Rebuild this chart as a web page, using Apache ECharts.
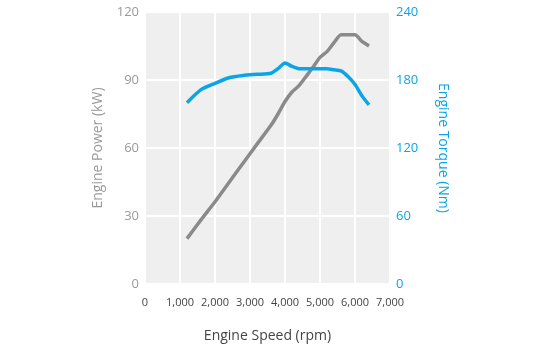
<!DOCTYPE html>
<html>
<head>
<meta charset="utf-8">
<script src="https://cdn.jsdelivr.net/npm/echarts@6/dist/echarts.min.js"></script>
<style>html,body{margin:0;padding:0;background:#fff;}#c{width:540px;height:350px;}</style>
</head>
<body>
<div id="c"></div>
<script>
var xTicks = [0, 1000, 2000, 3000, 4000, 5000, 6000, 7000];
var powerRpm = [1200, 1600, 2000, 2400, 2800, 3200, 3600, 3800, 4000, 4200, 4400, 4600, 4800, 5000, 5200, 5400, 5600, 6000, 6200, 6400];
var powerKW  = [20, 28.3, 36.3, 44.8, 53.3, 61.7, 70, 75, 80.5, 84.7, 87.5, 91.5, 95.7, 100, 102.5, 106.5, 110, 110, 107, 105];
var torqueRpm = [1200, 1600, 2000, 2400, 2800, 3200, 3600, 3800, 4000, 4200, 4400, 4800, 5200, 5400, 5600, 5800, 6000, 6200, 6400];
var torqueNm  = [160, 171.5, 177, 182, 184, 185, 186, 190, 195, 192, 190, 190, 190, 189, 188, 183, 176, 166, 158];

var gray = '#8a8a8a', blue = '#0aa5e6';
function pairs(xs, ys){ return xs.map(function(x,i){ return [x, ys[i]]; }); }

var chart = echarts.init(document.getElementById('c'), null, {renderer:'canvas'});
chart.setOption({
  animation: false,
  textStyle: {fontFamily: 'Open Sans'},
  grid: {left: 145, right: 150, top: 12, bottom: 66, show: true, backgroundColor: '#efefef', borderWidth: 0},
  xAxis: {
    type: 'value', min: 0, max: 7000, interval: 1000,
    name: 'Engine Speed (rpm)', nameLocation: 'middle', nameGap: 45,
    nameTextStyle: {color: '#444', fontSize: 14, fontFamily: 'Open Sans'},
    axisLine: {show: false}, axisTick: {show: false},
    axisLabel: {color: '#444', fontSize: 11, margin: 13, fontFamily: 'Liberation Sans Narrow, Open Sans',
      formatter: function(v){ return v.toLocaleString('en-US'); }},
    splitLine: {show: true, lineStyle: {color: '#ffffff', width: 2}}
  },
  yAxis: [{
    type: 'value', min: 0, max: 120, interval: 30, position: 'left',
    name: 'Engine Power (kW)', nameLocation: 'middle', nameGap: 40,
    nameTextStyle: {color: '#999', fontSize: 14},
    axisLine: {show: false}, axisTick: {show: false},
    axisLabel: {color: '#999', fontSize: 13, margin: 6},
    splitLine: {show: true, lineStyle: {color: '#ffffff', width: 2}}
  }, {
    type: 'value', min: 0, max: 240, interval: 60, position: 'right',
    name: 'Engine Torque (Nm)', nameLocation: 'middle', nameGap: 46, nameRotate: -90,
    nameTextStyle: {color: blue, fontSize: 14},
    axisLine: {show: false}, axisTick: {show: false},
    axisLabel: {color: blue, fontSize: 13, margin: 6},
    splitLine: {show: false}
  }],
  series: [{
    type: 'line', yAxisIndex: 0, data: pairs(powerRpm, powerKW), showSymbol: false, smooth: 0.2,
    lineStyle: {color: gray, width: 3.5}, itemStyle: {color: gray}
  }, {
    type: 'line', yAxisIndex: 1, data: pairs(torqueRpm, torqueNm), showSymbol: false, smooth: 0.2,
    lineStyle: {color: blue, width: 3.5}, itemStyle: {color: blue}
  }]
});
</script>
</body>
</html>
